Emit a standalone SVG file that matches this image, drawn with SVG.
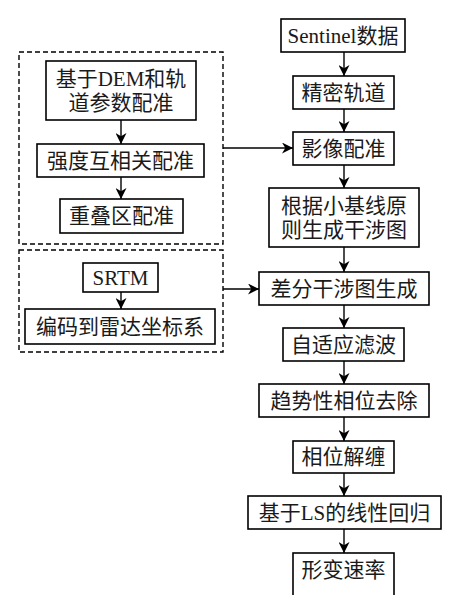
<svg xmlns="http://www.w3.org/2000/svg" width="454" height="595" viewBox="0 0 454 595">
<defs>
<marker id="ah" viewBox="0 0 10 10" refX="10" refY="5" markerWidth="11" markerHeight="11" markerUnits="userSpaceOnUse" orient="auto">
<path d="M0,0 L10,5 L0,10 L3,5 Z" fill="#000"/>
</marker>
</defs>
<style>
.b{fill:#fff;stroke:#000;stroke-width:1.6}
.d{fill:none;stroke:#000;stroke-width:1.4;stroke-dasharray:5,3}
.t{font-family:"Liberation Serif","Noto Sans CJK SC",serif;font-size:21px;fill:#1a1a1a;text-anchor:middle;dominant-baseline:central}
.c{stroke:#000;stroke-width:1.4;fill:none;marker-end:url(#ah)}
</style>
<rect width="454" height="595" fill="#fff"/>
<g id="group1"><rect class="d" x="19" y="52" width="204" height="192"/></g>
<g id="group2"><rect class="d" x="19" y="250" width="204" height="102"/></g>
<g id="n_dem"><rect class="b" x="46" y="61" width="150" height="59"/><text class="t" x="121" y="79">基于DEM和轨</text><text class="t" x="121" y="103">道参数配准</text></g>
<g id="n_qiangdu"><rect class="b" x="37" y="144" width="167" height="33"/><text class="t" x="120.5" y="160.5">强度互相关配准</text></g>
<g id="n_chongdie"><rect class="b" x="60" y="199" width="123" height="34"/><text class="t" x="121.5" y="216">重叠区配准</text></g>
<g id="n_srtm"><rect class="b" x="83" y="263" width="75" height="29"/><text class="t" x="120.5" y="277.5">SRTM</text></g>
<g id="n_bianma"><rect class="b" x="25" y="309" width="190" height="35"/><text class="t" x="120" y="326.5">编码到雷达坐标系</text></g>
<g id="n_sentinel"><rect class="b" x="281" y="19" width="124" height="33"/><text class="t" x="343" y="35.5">Sentinel数据</text></g>
<g id="n_jingmi"><rect class="b" x="293" y="76" width="101" height="33"/><text class="t" x="343.5" y="92.5">精密轨道</text></g>
<g id="n_yingxiang"><rect class="b" x="293" y="132" width="101" height="33"/><text class="t" x="343.5" y="148.5">影像配准</text></g>
<g id="n_genju"><rect class="b" x="269" y="188" width="150" height="59"/><text class="t" x="344" y="206">根据小基线原</text><text class="t" x="344" y="230">则生成干涉图</text></g>
<g id="n_chafen"><rect class="b" x="259" y="272" width="170" height="33"/><text class="t" x="344" y="288.5">差分干涉图生成</text></g>
<g id="n_lvbo"><rect class="b" x="283" y="328" width="121" height="33"/><text class="t" x="343.5" y="344.5">自适应滤波</text></g>
<g id="n_qushi"><rect class="b" x="259" y="384" width="170" height="33"/><text class="t" x="344" y="400.5">趋势性相位去除</text></g>
<g id="n_jiechan"><rect class="b" x="293" y="441" width="101" height="32"/><text class="t" x="343.5" y="457">相位解缠</text></g>
<g id="n_ls"><rect class="b" x="248" y="496" width="193" height="33"/><text class="t" x="344.5" y="512.5">基于LS的线性回归</text></g>
<g id="n_xingbian"><rect class="b" x="293" y="553" width="101" height="46"/><text class="t" x="343.5" y="569.5">形变速率</text></g>
<g id="connectors">
<line class="c" x1="121" y1="120" x2="121" y2="144"/>
<line class="c" x1="121" y1="177" x2="121" y2="199"/>
<line class="c" x1="121" y1="292" x2="121" y2="309"/>
<line class="c" x1="223" y1="148" x2="293" y2="148"/>
<line class="c" x1="223" y1="289" x2="259" y2="289"/>
<line class="c" x1="344" y1="52" x2="344" y2="76"/>
<line class="c" x1="344" y1="109" x2="344" y2="132"/>
<line class="c" x1="344" y1="165" x2="344" y2="188"/>
<line class="c" x1="344" y1="247" x2="344" y2="272"/>
<line class="c" x1="344" y1="305" x2="344" y2="328"/>
<line class="c" x1="344" y1="361" x2="344" y2="384"/>
<line class="c" x1="344" y1="417" x2="344" y2="441"/>
<line class="c" x1="344" y1="473" x2="344" y2="496"/>
<line class="c" x1="344" y1="529" x2="344" y2="553"/>
</g>
</svg>
